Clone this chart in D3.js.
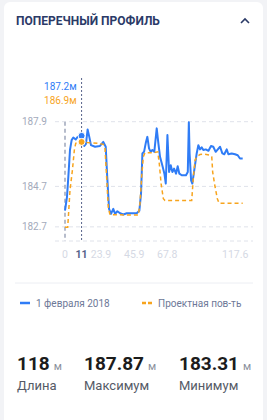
<!DOCTYPE html>
<html>
<head>
<meta charset="utf-8">
<script src="https://cdn.jsdelivr.net/npm/d3@7"></script>
<style>
  html, body { margin: 0; padding: 0; background: #f2f3f6; font-family: Roboto, "Noto Sans", sans-serif; }
  #card { position: absolute; left: 4px; top: 2px; width: 259px; height: 430px; background: #fff; border-radius: 6px; }
</style>
</head>
<body>
<div id="card"></div>
<svg id="chart" width="267" height="420" style="position:absolute;left:0;top:0"></svg>
<script>
// measured profile (distance, m -> elevation, m)
const surveyDist = [0, 1.3, 2.2, 3.3, 4.4, 5.5, 7.1, 8.4, 9.9, 11, 12.8, 13.9, 15.0, 16.1, 17.2, 19.9, 23.2, 25.4, 27, 28, 29.2, 30.5, 32, 33.2, 34.7, 36.5, 38.7, 40.9, 47.5, 49.3, 50.4, 51.3, 52.4, 53.7, 54.6, 55.7, 56.8, 57.9, 59.2, 60.8, 61.9, 63, 64.5, 65.9, 66.8, 67.9, 69, 70.1, 71.2, 72.3, 73.6, 74.7, 75.8, 77.4, 80.2, 81.4, 82.1, 82.6, 83.6, 84.4, 85.7, 87.3, 88.4, 89.5, 90.6, 91.7, 93.3, 95.1, 96.8, 98.3, 99.9, 101.3, 102.8, 104.3, 105.6, 107.2, 108.3, 110.5, 112.7, 114.5, 116, 117.8];
const surveyElev = [183.5, 184.17, 185.16, 186.5, 186.99, 187.12, 187.02, 187.15, 187.19, 187.2, 186.7, 186.8, 187.52, 187.15, 186.74, 186.66, 186.7, 186.9, 186.66, 185.16, 183.59, 183.34, 183.59, 183.34, 183.47, 183.37, 183.31, 183.37, 183.37, 183.5, 184.34, 186.33, 186.41, 186.9, 187.15, 186.58, 186.41, 186.5, 186.41, 187.57, 186.83, 186.16, 185.75, 185.33, 184.84, 187.24, 185.41, 185.75, 185.41, 185.58, 185.33, 185.7, 185.33, 185.25, 185.25, 185.41, 187.87, 186.33, 185.0, 184.84, 185.5, 186.33, 186.74, 186.53, 186.63, 186.5, 186.53, 186.46, 186.7, 186.66, 186.41, 186.53, 186.66, 186.33, 186.29, 186.53, 186.29, 186.33, 186.29, 186.24, 186.08, 186.08];

// design surface
const designDist = [0, 1.8, 3.3, 4.9, 6.2, 7.1, 8.8, 11, 14.4, 17.7, 22.1, 25.4, 26.5, 27.6, 28.7, 29.8, 48.6, 49.7, 50.8, 51.9, 53, 58.6, 61.5, 62.5, 63.7, 65.2, 66.3, 84, 85.1, 86.2, 87.3, 89.5, 92.8, 96.2, 97.3, 97.9, 99.5, 101, 102.1, 117.8];
const designElev = [182.68, 182.68, 184.5, 185.5, 186.5, 186.83, 186.87, 186.9, 186.87, 186.86, 186.83, 186.78, 186.6, 185.16, 183.67, 183.3, 183.28, 183.84, 185.16, 186.16, 186.36, 186.36, 186.41, 185.83, 184.84, 184.09, 184.0, 184.0, 185.16, 185.99, 186.16, 186.28, 186.29, 186.24, 186.16, 185.41, 184.67, 184.09, 183.87, 183.87];

const xTicks = [0, 11, 23.9, 45.9, 67.8, 117.6];
const yTicks = [187.9, 184.7, 182.7];
const cursorDist = 11;
const cursorLabels = ["187.2м", "186.9м"];
const legendNames = ["1 февраля 2018", "Проектная пов-ть"];
const stats = [["118", "Длина"], ["187.87", "Максимум"], ["183.31", "Минимум"]];

const BLUE = "#2f7cf6", ORANGE = "#f7a41d";

const svg = d3.select("#chart");

// header
svg.append("text").attr("x", 16).attr("y", 24.5)
  .attr("font-size", 12).attr("font-weight", 700).attr("fill", "#2b3a67")
  .text("ПОПЕРЕЧНЫЙ ПРОФИЛЬ");
svg.append("path").attr("d", "M241,23 L245,19 L249,23")
  .attr("fill", "none").attr("stroke", "#2b3a67").attr("stroke-width", 1.6);

const x = d3.scaleLinear().domain([0, 118]).range([65, 243]);
const y = d3.scaleLinear().domain([182, 187.9]).range([241, 121.7]);

// grid
const gridVals = yTicks.concat([182]);
svg.selectAll(".grid").data(gridVals).join("line")
  .attr("x1", 55).attr("x2", 253)
  .attr("y1", d => y(d)).attr("y2", d => y(d))
  .attr("stroke", "#dfe2ea").attr("stroke-width", 1).attr("stroke-dasharray", "4,3");

svg.selectAll(".ylab").data(yTicks).join("text")
  .attr("x", 47).attr("y", d => y(d) + 3.5)
  .attr("text-anchor", "end").attr("font-size", 10).attr("fill", "#a3aabb")
  .text(d => d.toFixed(1));

// left boundary
svg.append("line").attr("x1", x(0)).attr("x2", x(0))
  .attr("y1", y(187.9)).attr("y2", y(182))
  .attr("stroke", "#b6bccb").attr("stroke-width", 2).attr("stroke-dasharray", "4,3");

// x labels
svg.selectAll(".xlab").data(xTicks).join("text")
  .attr("x", (d, i) => i === xTicks.length - 1 ? x(d) + 6 : x(d))
  .attr("y", 258)
  .attr("text-anchor", (d, i) => i === xTicks.length - 1 ? "end" : "middle")
  .attr("font-size", 10.5)
  .attr("font-weight", d => d === cursorDist ? 700 : 400)
  .attr("fill", d => d === cursorDist ? "#56628a" : "#d5d9e4")
  .text(d => d);

// cursor
svg.append("line").attr("x1", x(cursorDist)).attr("x2", x(cursorDist))
  .attr("y1", 78).attr("y2", y(182))
  .attr("stroke", "#56628a").attr("stroke-width", 1).attr("stroke-dasharray", "2,2");

const survey = surveyDist.map((d, i) => [d, surveyElev[i]]);
const design = designDist.map((d, i) => [d, designElev[i]]);
const line = d3.line().x(d => x(d[0])).y(d => y(d[1]));

svg.append("path").datum(survey).attr("d", line)
  .attr("fill", "none").attr("stroke", BLUE).attr("stroke-width", 2).attr("stroke-linejoin", "round");
svg.append("path").datum(design).attr("d", line)
  .attr("fill", "none").attr("stroke", ORANGE).attr("stroke-width", 1.5).attr("stroke-dasharray", "4,3");

const cursorVals = [[surveyElev[surveyDist.indexOf(cursorDist)], BLUE], [designElev[designDist.indexOf(cursorDist)], ORANGE]];
svg.selectAll(".dot").data(cursorVals).join("circle")
  .attr("cx", x(cursorDist)).attr("cy", d => y(d[0])).attr("r", 3.5)
  .attr("fill", d => d[1]).attr("stroke", "#fff").attr("stroke-width", 1);

svg.selectAll(".clab").data(cursorLabels).join("text")
  .attr("x", x(cursorDist) - 5).attr("y", (d, i) => 90 + i * 13.5)
  .attr("text-anchor", "end").attr("font-size", 10)
  .attr("fill", (d, i) => i === 0 ? BLUE : ORANGE)
  .text(d => d);

// separator
svg.append("line").attr("x1", 15).attr("x2", 253).attr("y1", 283).attr("y2", 283)
  .attr("stroke", "#eceef3").attr("stroke-width", 1);

// legend
const lg = svg.selectAll(".lg").data(legendNames).join("g")
  .attr("transform", (d, i) => `translate(${i === 0 ? 20 : 142},303)`);
lg.append("line").attr("x1", 0).attr("x2", 10).attr("y1", 0).attr("y2", 0)
  .attr("stroke", (d, i) => i === 0 ? BLUE : ORANGE).attr("stroke-width", 2.5)
  .attr("stroke-dasharray", (d, i) => i === 0 ? null : "4,2");
lg.append("text").attr("x", 16).attr("y", 3.5)
  .attr("font-size", 10).attr("fill", "#6d7897").text(d => d);

// stats
const colX = [17, 84, 179];
const st = svg.selectAll(".st").data(stats).join("g")
  .attr("transform", (d, i) => `translate(${colX[i]},0)`);
const big = st.append("text").attr("y", 370);
big.append("tspan").attr("font-size", 19).attr("font-weight", 700).attr("fill", "#1c1c1c").text(d => d[0]);
big.append("tspan").attr("dx", 4).attr("font-size", 11).attr("fill", "#8a8f9c").text("м");
st.append("text").attr("y", 390).attr("font-size", 13).attr("fill", "#555a66").text(d => d[1]);
</script>
</body>
</html>
